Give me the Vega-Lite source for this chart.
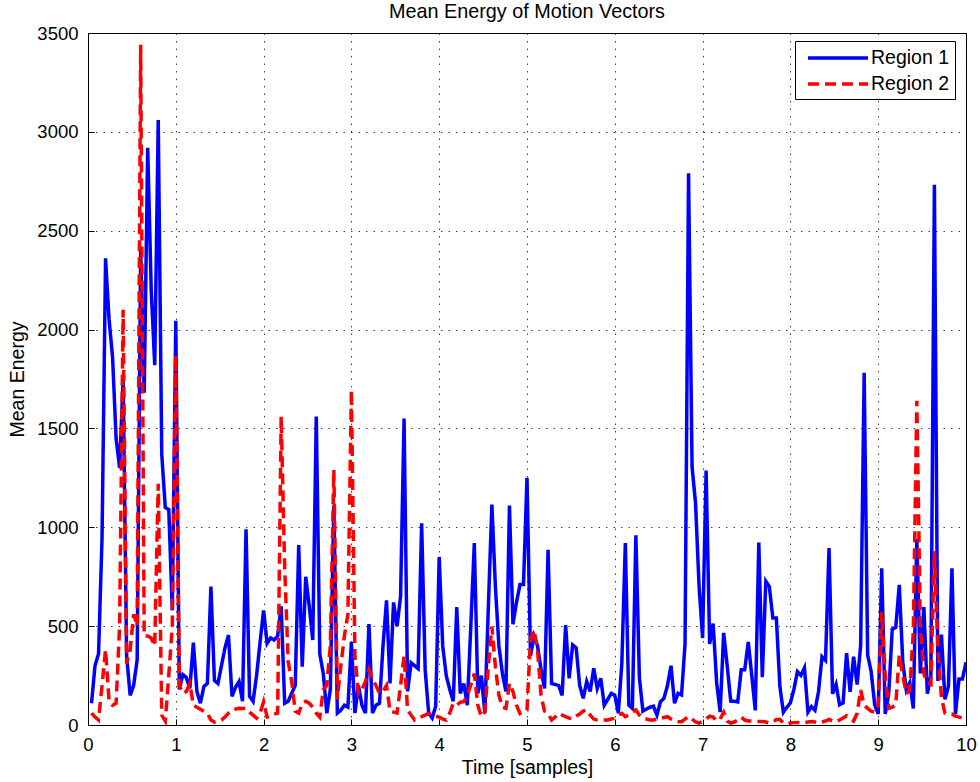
{
  "$schema": "https://vega.github.io/schema/vega-lite/v6.json",
  "width": 878,
  "height": 692,
  "autosize": {"type": "none"},
  "padding": {"left": 88, "top": 33, "right": 14, "bottom": 57},
  "background": "white",
  "title": {"text": "Mean Energy of Motion Vectors", "fontSize": 19.8, "fontWeight": "normal", "font": "Liberation Sans", "color": "black", "offset": 2, "anchor": "middle"},
  "config": {
    "view": {"stroke": "black", "strokeWidth": 1},
    "font": "Liberation Sans",
    "axis": {"labelFont": "Liberation Sans", "titleFont": "Liberation Sans", "labelFontSize": 18.5, "titleFontSize": 19.5, "titleFontWeight": "normal", "labelColor": "black", "titleColor": "black", "domainColor": "black", "tickColor": "black", "gridColor": "#000000", "gridDash": [1.5, 6], "gridOpacity": 0.75, "gridWidth": 1, "tickSize": -6, "labelPadding": 16},
    "legend": {"orient": "none", "legendX": 707, "legendY": 8, "strokeColor": "black", "fillColor": "white", "padding": 5, "labelFont": "Liberation Sans", "labelFontSize": 19.5, "labelColor": "black", "symbolType": "M-3,0H3", "symbolSize": 400, "symbolStrokeWidth": 3.5, "labelOffset": 21, "rowPadding": 4, "symbolOffset": 26}
  },
  "data": {"values": [
{"t":0.04,"Region 1":110,"Region 2":60},{"t":0.08,"Region 1":300,"Region 2":40},{"t":0.12,"Region 1":360,"Region 2":25},{"t":0.16,"Region 1":950,"Region 2":200},{"t":0.2,"Region 1":2360,"Region 2":380},
{"t":0.24,"Region 1":2050,"Region 2":120},{"t":0.28,"Region 1":1860,"Region 2":100},{"t":0.32,"Region 1":1450,"Region 2":110},{"t":0.36,"Region 1":1300,"Region 2":500},{"t":0.4,"Region 1":1750,"Region 2":2100},
{"t":0.44,"Region 1":350,"Region 2":310},{"t":0.48,"Region 1":150,"Region 2":380},{"t":0.52,"Region 1":200,"Region 2":560},{"t":0.56,"Region 1":330,"Region 2":500},{"t":0.6,"Region 1":2400,"Region 2":3440},
{"t":0.64,"Region 1":1680,"Region 2":450},{"t":0.68,"Region 1":2920,"Region 2":450},{"t":0.72,"Region 1":2200,"Region 2":440},{"t":0.76,"Region 1":1820,"Region 2":400},{"t":0.8,"Region 1":3060,"Region 2":1220},
{"t":0.84,"Region 1":1370,"Region 2":50},{"t":0.88,"Region 1":1100,"Region 2":20},{"t":0.92,"Region 1":1090,"Region 2":250},{"t":0.96,"Region 1":580,"Region 2":500},{"t":1.0,"Region 1":2045,"Region 2":1870},
{"t":1.04,"Region 1":180,"Region 2":200},{"t":1.08,"Region 1":255,"Region 2":160},{"t":1.12,"Region 1":240,"Region 2":170},{"t":1.16,"Region 1":185,"Region 2":210},{"t":1.2,"Region 1":416,"Region 2":100},
{"t":1.24,"Region 1":170,"Region 2":90},{"t":1.28,"Region 1":110,"Region 2":80},{"t":1.32,"Region 1":195,"Region 2":70},{"t":1.36,"Region 1":210,"Region 2":60},{"t":1.4,"Region 1":700,"Region 2":25},
{"t":1.44,"Region 1":225,"Region 2":15},{"t":1.48,"Region 1":210,"Region 2":20},{"t":1.52,"Region 1":300,"Region 2":25},{"t":1.56,"Region 1":390,"Region 2":40},{"t":1.6,"Region 1":455,"Region 2":60},
{"t":1.64,"Region 1":145,"Region 2":75},{"t":1.68,"Region 1":190,"Region 2":80},{"t":1.72,"Region 1":220,"Region 2":85},{"t":1.76,"Region 1":120,"Region 2":84},{"t":1.8,"Region 1":990,"Region 2":84},
{"t":1.84,"Region 1":145,"Region 2":65},{"t":1.88,"Region 1":120,"Region 2":50},{"t":1.92,"Region 1":250,"Region 2":35},{"t":1.96,"Region 1":420,"Region 2":60},{"t":2.0,"Region 1":580,"Region 2":118},
{"t":2.04,"Region 1":413,"Region 2":40},{"t":2.08,"Region 1":440,"Region 2":42},{"t":2.12,"Region 1":430,"Region 2":55},{"t":2.16,"Region 1":450,"Region 2":60},{"t":2.2,"Region 1":600,"Region 2":1560},
{"t":2.24,"Region 1":110,"Region 2":800},{"t":2.28,"Region 1":120,"Region 2":320},{"t":2.32,"Region 1":160,"Region 2":220},{"t":2.36,"Region 1":200,"Region 2":70},{"t":2.4,"Region 1":910,"Region 2":60},
{"t":2.44,"Region 1":295,"Region 2":110},{"t":2.48,"Region 1":750,"Region 2":120},{"t":2.52,"Region 1":600,"Region 2":110},{"t":2.56,"Region 1":430,"Region 2":90},{"t":2.6,"Region 1":1560,"Region 2":60},
{"t":2.64,"Region 1":360,"Region 2":40},{"t":2.68,"Region 1":260,"Region 2":180},{"t":2.72,"Region 1":60,"Region 2":200},{"t":2.76,"Region 1":180,"Region 2":400},{"t":2.8,"Region 1":1110,"Region 2":1290},
{"t":2.84,"Region 1":60,"Region 2":130},{"t":2.88,"Region 1":75,"Region 2":300},{"t":2.92,"Region 1":100,"Region 2":450},{"t":2.96,"Region 1":90,"Region 2":560},{"t":3.0,"Region 1":420,"Region 2":1695},
{"t":3.04,"Region 1":60,"Region 2":350},{"t":3.08,"Region 1":200,"Region 2":160},{"t":3.12,"Region 1":100,"Region 2":180},{"t":3.16,"Region 1":60,"Region 2":220},{"t":3.2,"Region 1":510,"Region 2":280},
{"t":3.24,"Region 1":60,"Region 2":230},{"t":3.28,"Region 1":100,"Region 2":200},{"t":3.32,"Region 1":110,"Region 2":160},{"t":3.36,"Region 1":400,"Region 2":170},{"t":3.4,"Region 1":630,"Region 2":200},
{"t":3.44,"Region 1":210,"Region 2":70},{"t":3.48,"Region 1":620,"Region 2":65},{"t":3.52,"Region 1":500,"Region 2":60},{"t":3.56,"Region 1":650,"Region 2":200},{"t":3.6,"Region 1":1550,"Region 2":350},
{"t":3.64,"Region 1":170,"Region 2":76},{"t":3.68,"Region 1":315,"Region 2":50},{"t":3.72,"Region 1":300,"Region 2":25},{"t":3.76,"Region 1":285,"Region 2":35},{"t":3.8,"Region 1":1020,"Region 2":42},
{"t":3.84,"Region 1":280,"Region 2":50},{"t":3.88,"Region 1":60,"Region 2":59},{"t":3.92,"Region 1":35,"Region 2":55},{"t":3.96,"Region 1":95,"Region 2":45},{"t":4.0,"Region 1":850,"Region 2":40},
{"t":4.04,"Region 1":400,"Region 2":30},{"t":4.08,"Region 1":250,"Region 2":25},{"t":4.12,"Region 1":180,"Region 2":60},{"t":4.16,"Region 1":120,"Region 2":110},{"t":4.2,"Region 1":595,"Region 2":100},
{"t":4.24,"Region 1":160,"Region 2":115},{"t":4.28,"Region 1":210,"Region 2":118},{"t":4.32,"Region 1":100,"Region 2":150},{"t":4.36,"Region 1":500,"Region 2":202},{"t":4.4,"Region 1":920,"Region 2":260},
{"t":4.44,"Region 1":160,"Region 2":100},{"t":4.48,"Region 1":250,"Region 2":42},{"t":4.52,"Region 1":60,"Region 2":67},{"t":4.56,"Region 1":600,"Region 2":300},{"t":4.6,"Region 1":1115,"Region 2":498},
{"t":4.64,"Region 1":700,"Region 2":295},{"t":4.68,"Region 1":400,"Region 2":150},{"t":4.72,"Region 1":260,"Region 2":90},{"t":4.76,"Region 1":170,"Region 2":84},{"t":4.8,"Region 1":1110,"Region 2":211},
{"t":4.84,"Region 1":510,"Region 2":169},{"t":4.88,"Region 1":620,"Region 2":100},{"t":4.92,"Region 1":710,"Region 2":59},{"t":4.96,"Region 1":710,"Region 2":70},{"t":5.0,"Region 1":1250,"Region 2":76},
{"t":5.04,"Region 1":350,"Region 2":439},{"t":5.08,"Region 1":450,"Region 2":480},{"t":5.12,"Region 1":400,"Region 2":380},{"t":5.16,"Region 1":280,"Region 2":150},{"t":5.2,"Region 1":185,"Region 2":70},
{"t":5.24,"Region 1":886,"Region 2":59},{"t":5.28,"Region 1":210,"Region 2":25},{"t":5.32,"Region 1":205,"Region 2":40},{"t":5.36,"Region 1":200,"Region 2":59},{"t":5.4,"Region 1":150,"Region 2":50},
{"t":5.44,"Region 1":505,"Region 2":42},{"t":5.48,"Region 1":236,"Region 2":35},{"t":5.52,"Region 1":405,"Region 2":30},{"t":5.56,"Region 1":390,"Region 2":45},{"t":5.6,"Region 1":200,"Region 2":55},
{"t":5.64,"Region 1":135,"Region 2":70},{"t":5.68,"Region 1":220,"Region 2":76},{"t":5.72,"Region 1":170,"Region 2":50},{"t":5.76,"Region 1":287,"Region 2":30},{"t":5.8,"Region 1":185,"Region 2":25},
{"t":5.84,"Region 1":236,"Region 2":25},{"t":5.88,"Region 1":100,"Region 2":25},{"t":5.92,"Region 1":130,"Region 2":25},{"t":5.96,"Region 1":160,"Region 2":30},{"t":6.0,"Region 1":150,"Region 2":34},
{"t":6.04,"Region 1":60,"Region 2":50},{"t":6.08,"Region 1":310,"Region 2":59},{"t":6.12,"Region 1":920,"Region 2":42},{"t":6.16,"Region 1":100,"Region 2":50},{"t":6.2,"Region 1":84,"Region 2":65},
{"t":6.24,"Region 1":960,"Region 2":76},{"t":6.28,"Region 1":240,"Region 2":50},{"t":6.32,"Region 1":70,"Region 2":34},{"t":6.36,"Region 1":80,"Region 2":30},{"t":6.4,"Region 1":90,"Region 2":25},
{"t":6.44,"Region 1":95,"Region 2":25},{"t":6.48,"Region 1":50,"Region 2":30},{"t":6.52,"Region 1":118,"Region 2":34},{"t":6.56,"Region 1":135,"Region 2":38},{"t":6.6,"Region 1":200,"Region 2":42},
{"t":6.64,"Region 1":300,"Region 2":30},{"t":6.68,"Region 1":110,"Region 2":20},{"t":6.72,"Region 1":160,"Region 2":17},{"t":6.76,"Region 1":152,"Region 2":17},{"t":6.8,"Region 1":410,"Region 2":30},
{"t":6.84,"Region 1":2790,"Region 2":43},{"t":6.88,"Region 1":1306,"Region 2":30},{"t":6.92,"Region 1":1120,"Region 2":15},{"t":6.96,"Region 1":700,"Region 2":10},{"t":7.0,"Region 1":440,"Region 2":18},
{"t":7.04,"Region 1":1287,"Region 2":30},{"t":7.08,"Region 1":410,"Region 2":45},{"t":7.12,"Region 1":513,"Region 2":40},{"t":7.16,"Region 1":214,"Region 2":20},{"t":7.2,"Region 1":65,"Region 2":30},
{"t":7.24,"Region 1":466,"Region 2":65},{"t":7.28,"Region 1":300,"Region 2":20},{"t":7.32,"Region 1":121,"Region 2":10},{"t":7.36,"Region 1":120,"Region 2":15},{"t":7.4,"Region 1":117,"Region 2":25},
{"t":7.44,"Region 1":280,"Region 2":40},{"t":7.48,"Region 1":280,"Region 2":25},{"t":7.52,"Region 1":420,"Region 2":20},{"t":7.56,"Region 1":250,"Region 2":20},{"t":7.6,"Region 1":74,"Region 2":18},
{"t":7.64,"Region 1":923,"Region 2":18},{"t":7.68,"Region 1":242,"Region 2":18},{"t":7.72,"Region 1":727,"Region 2":15},{"t":7.76,"Region 1":700,"Region 2":10},{"t":7.8,"Region 1":541,"Region 2":15},
{"t":7.84,"Region 1":541,"Region 2":28},{"t":7.88,"Region 1":196,"Region 2":28},{"t":7.92,"Region 1":65,"Region 2":10},{"t":7.96,"Region 1":90,"Region 2":5},{"t":8.0,"Region 1":112,"Region 2":10},
{"t":8.04,"Region 1":180,"Region 2":12},{"t":8.08,"Region 1":270,"Region 2":13},{"t":8.12,"Region 1":251,"Region 2":10},{"t":8.16,"Region 1":289,"Region 2":12},{"t":8.2,"Region 1":65,"Region 2":15},
{"t":8.24,"Region 1":93,"Region 2":18},{"t":8.28,"Region 1":74,"Region 2":15},{"t":8.32,"Region 1":168,"Region 2":10},{"t":8.36,"Region 1":345,"Region 2":15},{"t":8.4,"Region 1":326,"Region 2":20},
{"t":8.44,"Region 1":895,"Region 2":28},{"t":8.48,"Region 1":158,"Region 2":20},{"t":8.52,"Region 1":205,"Region 2":15},{"t":8.56,"Region 1":102,"Region 2":25},{"t":8.6,"Region 1":112,"Region 2":35},
{"t":8.64,"Region 1":363,"Region 2":46},{"t":8.68,"Region 1":168,"Region 2":30},{"t":8.72,"Region 1":345,"Region 2":20},{"t":8.76,"Region 1":205,"Region 2":60},{"t":8.8,"Region 1":401,"Region 2":177},
{"t":8.84,"Region 1":1782,"Region 2":100},{"t":8.88,"Region 1":354,"Region 2":84},{"t":8.92,"Region 1":270,"Region 2":70},{"t":8.96,"Region 1":102,"Region 2":65},{"t":9.0,"Region 1":56,"Region 2":100},
{"t":9.04,"Region 1":793,"Region 2":570},{"t":9.08,"Region 1":56,"Region 2":250},{"t":9.12,"Region 1":158,"Region 2":84},{"t":9.16,"Region 1":485,"Region 2":90},{"t":9.2,"Region 1":494,"Region 2":102},
{"t":9.24,"Region 1":709,"Region 2":354},{"t":9.28,"Region 1":317,"Region 2":250},{"t":9.32,"Region 1":177,"Region 2":158},{"t":9.36,"Region 1":214,"Region 2":177},{"t":9.4,"Region 1":84,"Region 2":476},
{"t":9.44,"Region 1":942,"Region 2":1640},{"t":9.48,"Region 1":261,"Region 2":494},{"t":9.52,"Region 1":597,"Region 2":260},{"t":9.56,"Region 1":158,"Region 2":214},{"t":9.6,"Region 1":251,"Region 2":205},
{"t":9.64,"Region 1":2733,"Region 2":880},{"t":9.68,"Region 1":223,"Region 2":382},{"t":9.72,"Region 1":457,"Region 2":140},{"t":9.76,"Region 1":130,"Region 2":60},{"t":9.8,"Region 1":196,"Region 2":56},
{"t":9.84,"Region 1":793,"Region 2":56},{"t":9.88,"Region 1":56,"Region 2":45},{"t":9.92,"Region 1":233,"Region 2":40},{"t":9.96,"Region 1":233,"Region 2":35},{"t":10.0,"Region 1":317,"Region 2":28}
  ]},
  "transform": [{"fold": ["Region 1", "Region 2"], "as": ["series", "energy"]}],
  "mark": {"type": "line", "strokeWidth": 3.5, "clip": true, "interpolate": "linear"},
  "encoding": {
    "x": {"field": "t", "type": "quantitative", "title": "Time [samples]",
          "scale": {"domain": [0, 10], "nice": false, "zero": false},
          "axis": {"values": [0,1,2,3,4,5,6,7,8,9,10], "titlePadding": 5, "labelFlush": false, "format": "d"}},
    "y": {"field": "energy", "type": "quantitative", "title": "Mean Energy",
          "scale": {"domain": [0, 3500], "nice": false},
          "axis": {"values": [0,500,1000,1500,2000,2500,3000,3500], "titlePadding": 9, "format": "d"}},
    "color": {"field": "series", "type": "nominal", "title": null,
              "scale": {"domain": ["Region 1", "Region 2"], "range": ["#0000ff", "#ff0000"]}},
    "strokeDash": {"field": "series", "type": "nominal", "title": null,
                   "scale": {"domain": ["Region 1", "Region 2"], "range": [[1, 0], [11, 6]]}},
    "order": {"field": "t", "type": "quantitative"}
  }
}
